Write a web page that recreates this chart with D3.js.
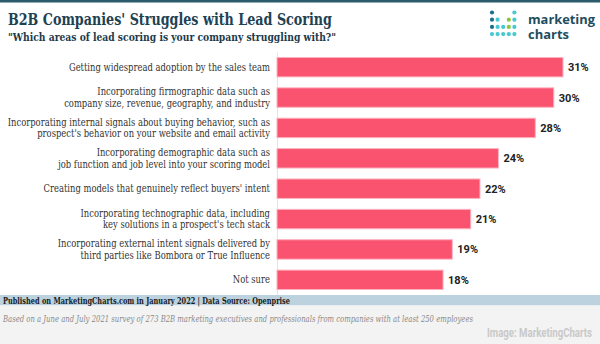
<!DOCTYPE html>
<html>
  <head>
    <meta http-equiv="Content-Type" content="text/html;charset=utf-8">
    <title>B2B Companies' Struggles with Lead Scoring</title>
    <script type="text/javascript" src="https://d3js.org/d3.v7.min.js"></script>
    <style>
      html, body { margin: 0; padding: 0; background: #fff; }
      svg { display: block; }
      .lbl { font-family: "Roboto Slab", "DejaVu Serif", serif; font-size: 10.5px; fill: #333; }
      .val { font-family: Roboto, "Liberation Sans", sans-serif; font-size: 11px; font-weight: bold; fill: #222; }
      .axis path, .axis line { stroke: #e4e4e4; }
    </style>
  </head>
  <body>
    <script type="text/javascript">

// data
var categories = [
  ["Getting widespread adoption by the sales team"],
  ["Incorporating firmographic data such as", "company size, revenue, geography, and industry"],
  ["Incorporating internal signals about buying behavior, such as", "prospect's behavior on your website and email activity"],
  ["Incorporating demographic data such as", "job function and job level into your scoring model"],
  ["Creating models that genuinely reflect buyers' intent"],
  ["Incorporating technographic data, including", "key solutions in a prospect's tech stack"],
  ["Incorporating external intent signals delivered by", "third parties like Bombora or True Influence"],
  ["Not sure"]
];
var values = [31, 30, 28, 24, 22, 21, 19, 18];

var W = 600, H = 344;
var squeeze = 0.80; // DejaVu Serif is wider than the original slab face

var svg = d3.select("body").append("svg").attr("width", W).attr("height", H);

// top rule
svg.append("rect").attr("x", 0).attr("y", 0).attr("width", W).attr("height", 2.5).attr("fill", "#2b5a6c");

// titles
svg.append("text").attr("x", 8).attr("y", 25)
  .attr("font-family", "'Roboto Slab', 'DejaVu Serif', serif").attr("font-weight", "bold")
  .attr("font-size", 17).attr("fill", "#1d4252")
  .attr("textLength", 324).attr("lengthAdjust", "spacingAndGlyphs")
  .text("B2B Companies' Struggles with Lead Scoring");
svg.append("text").attr("x", 8).attr("y", 41)
  .attr("font-family", "'Roboto Slab', 'DejaVu Serif', serif").attr("font-weight", "bold")
  .attr("font-size", 10.5).attr("fill", "#1d3a4a")
  .attr("textLength", 328).attr("lengthAdjust", "spacingAndGlyphs")
  .text("\"Which areas of lead scoring is your company struggling with?\"");

// logo
var dotRows = [[1,0,0,0,2],[1,2,0,3,2],[1,2,2,3,2],[2,2,2,2,2]];
var dotColors = ["none", "#1f6f8b", "#46c9d2", "#8cc63f"];
var logo = svg.append("g").attr("transform", "translate(492,12.5)");
dotRows.forEach(function(row, r) {
  row.forEach(function(c, i) {
    if (c) logo.append("circle").attr("cx", i * 5.6).attr("cy", r * 7.2).attr("r", 2.1).attr("fill", dotColors[c]);
  });
});
svg.append("text").attr("x", 528).attr("y", 23.5)
  .attr("font-family", "'Open Sans', sans-serif").attr("font-weight", "bold")
  .attr("font-size", 12.5).attr("fill", "#1f4d5e")
  .attr("textLength", 67).attr("lengthAdjust", "spacingAndGlyphs").text("marketing");
svg.append("text").attr("x", 528).attr("y", 38.5)
  .attr("font-family", "'Open Sans', sans-serif").attr("font-weight", "bold")
  .attr("font-size", 12.5).attr("fill", "#1f4d5e")
  .attr("textLength", 41).attr("lengthAdjust", "spacingAndGlyphs").text("charts");

// scales
var x = d3.scaleLinear().domain([0, 31]).range([277, 563]);
var y = d3.scaleBand().domain(d3.range(values.length)).range([52, 295]).paddingInner(0.36).paddingOuter(0.18);

svg.append("g").attr("class", "axis")
  .attr("transform", "translate(277,0)")
  .call(d3.axisLeft(y).tickSize(0).tickFormat(""));

// bars
svg.selectAll("rect.bar").data(values).enter().append("rect")
  .attr("class", "bar")
  .attr("x", x(0))
  .attr("y", function(d, i) { return y(i); })
  .attr("width", function(d) { return x(d) - x(0); })
  .attr("height", y.bandwidth())
  .attr("fill", "#f9536f")
  .attr("stroke", "#fcb3c0")
  .attr("stroke-width", 1);

svg.selectAll("text.val").data(values).enter().append("text")
  .attr("class", "val")
  .attr("x", function(d) { return x(d) + 5; })
  .attr("y", function(d, i) { return y(i) + y.bandwidth() / 2 + 4; })
  .text(function(d) { return d + "%"; });

// category labels, one text per line
categories.forEach(function(lines, i) {
  var cy = y(i) + y.bandwidth() / 2 + 3.5 - (lines.length - 1) * 5.75;
  lines.forEach(function(line, j) {
    var t = svg.append("text").attr("class", "lbl")
      .attr("text-anchor", "end")
      .attr("x", 270)
      .attr("y", cy + j * 11.5)
      .text(line);
    var w = t.node().getComputedTextLength();
    t.attr("textLength", w * squeeze).attr("lengthAdjust", "spacingAndGlyphs");
  });
});

// footer
svg.append("rect").attr("x", 0).attr("y", 295).attr("width", W).attr("height", 10.5).attr("fill", "#bcd3df");
svg.append("rect").attr("x", 0).attr("y", 305.5).attr("width", W).attr("height", H - 305.5).attr("fill", "#f3f3f3");
svg.append("text").attr("x", 3).attr("y", 303.8)
  .attr("font-family", "'Roboto Slab', 'DejaVu Serif', serif").attr("font-weight", "bold")
  .attr("font-size", 9.5).attr("fill", "#1a1a1a")
  .attr("textLength", 287).attr("lengthAdjust", "spacingAndGlyphs")
  .text("Published on MarketingCharts.com in January 2022 | Data Source: Openprise");
svg.append("text").attr("x", 3).attr("y", 322)
  .attr("font-family", "'DejaVu Serif', serif").attr("font-style", "italic")
  .attr("font-size", 8.5).attr("fill", "#8a8a8a")
  .attr("textLength", 470).attr("lengthAdjust", "spacingAndGlyphs")
  .text("Based on a June and July 2021 survey of 273 B2B marketing executives and professionals from companies with at least 250 employees");
svg.append("text").attr("x", 592).attr("y", 337).attr("text-anchor", "end")
  .attr("font-family", "Roboto, sans-serif").attr("font-weight", "bold")
  .attr("font-size", 12).attr("fill", "#c9c9c9")
  .attr("textLength", 105).attr("lengthAdjust", "spacingAndGlyphs")
  .text("Image: MarketingCharts");

    </script>
  </body>
</html>
